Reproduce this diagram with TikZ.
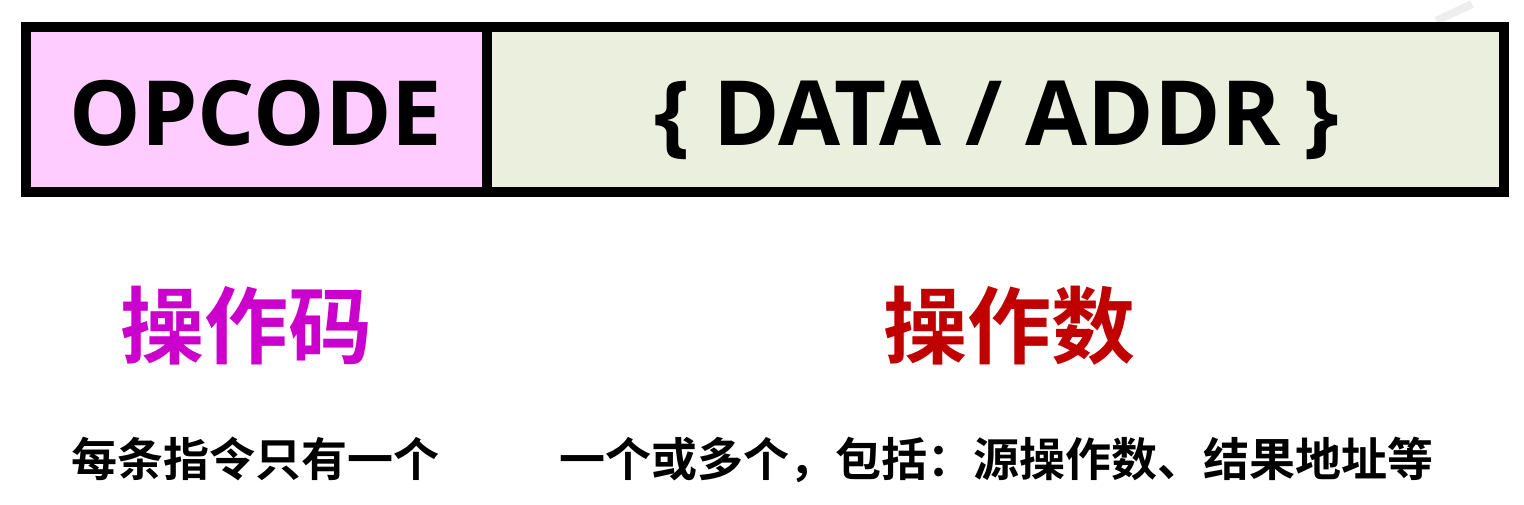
\documentclass[tikz,border=0pt]{standalone}
\usepackage{fontspec}
\setmainfont{Open Sans}[BoldFont={Open Sans Bold}]
\newfontfamily\cjk{Noto Sans CJK SC}[BoldFont={Noto Sans CJK SC Bold}]
\definecolor{oppink}{HTML}{FFCCFF}
\definecolor{datagreen}{HTML}{EBEFDE}
\definecolor{opmag}{HTML}{CC00CC}
\definecolor{datared}{HTML}{C00000}
\definecolor{faint}{HTML}{EEEEEE}
\begin{document}
\begin{tikzpicture}[x=1pt,y=-1pt,
  field/.style={draw=black,line width=10pt,inner sep=0pt,minimum height=165pt},
  latin/.style={font=\fontsize{90}{90}\selectfont\bfseries,anchor=base,inner sep=0pt},
  heading/.style={font=\cjk\fontsize{84}{84}\selectfont\bfseries,anchor=base,inner sep=0pt},
  note/.style={font=\cjk\fontsize{46}{46}\selectfont\bfseries,anchor=base,inner sep=0pt,text=black}]
\useasboundingbox (0,0) rectangle (1524,504);
\draw[faint,line width=8pt] (1436,21) -- (1472,4);
\node[field,fill=oppink,minimum width=461pt] (op) at (256.5,109.5) {};
\node[field,fill=datagreen,minimum width=1017pt] (data) at (995.5,109.5) {};
\node[latin] (optext) at (256,145) {OPCODE};
\node[latin] (datatext) at (997,145) {\{ DATA / ADDR \}};
\node[heading,text=opmag] (oph) at (246,357) {操作码};
\node[heading,text=datared] (datah) at (1009,357) {操作数};
\node[note] (opn) at (255,476) {每条指令只有一个};
\node[note] (datan) at (996,476) {一个或多个，包括：源操作数、结果地址等};
\end{tikzpicture}
\end{document}
